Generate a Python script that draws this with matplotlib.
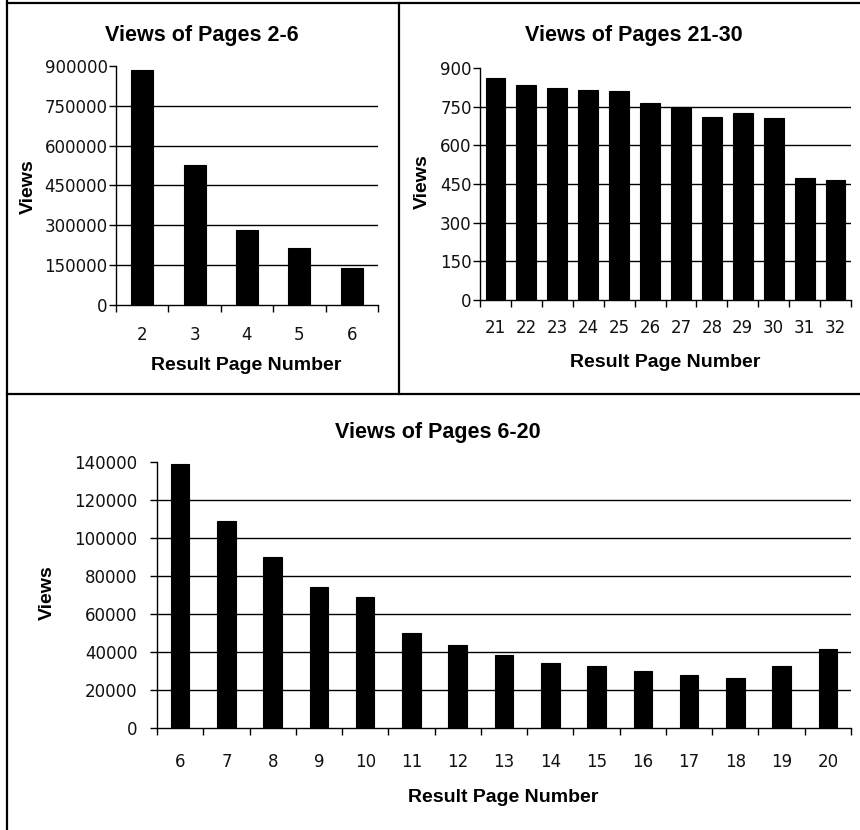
import matplotlib
matplotlib.use("Agg")
import matplotlib.pyplot as plt
from matplotlib.lines import Line2D

# page views per result page
pages_a = [2, 3, 4, 5, 6]
views_a = [884000, 528000, 281000, 215000, 139000]
yticks_a = [0, 150000, 300000, 450000, 600000, 750000, 900000]

pages_b = [21, 22, 23, 24, 25, 26, 27, 28, 29, 30, 31, 32]
views_b = [862, 834, 824, 813, 812, 766, 749, 710, 727, 705, 473, 467]
yticks_b = [0, 150, 300, 450, 600, 750, 900]

pages_c = [6, 7, 8, 9, 10, 11, 12, 13, 14, 15, 16, 17, 18, 19, 20]
views_c = [138800, 108900, 89800, 74400, 69100, 49900, 43800, 38300,
           34000, 32400, 29900, 27700, 26300, 32400, 41500]
yticks_c = [0, 20000, 40000, 60000, 80000, 100000, 120000, 140000]

W, H = 860, 830
fig = plt.figure(figsize=(W / 100, H / 100), dpi=100)
fig.patch.set_facecolor("white")

BOLD = dict(family="Liberation Sans", weight="bold", color="black")
TICKFONT = "DejaVu Sans"
TICKSIZE = 12


def px(x, y):
    return x / W, 1 - y / H


def axes_px(x0, y0, x1, y1):
    return fig.add_axes([x0 / W, 1 - y1 / H, (x1 - x0) / W, (y1 - y0) / H])


def bar_panel(ax, pages, views, yticks, width, xpad, ypad):
    n = len(pages)
    pos = list(range(n))
    ax.hlines(yticks[1:-1], -0.5, n - 0.5, colors="black", lw=1.0, zorder=1)
    ax.bar(pos, views, width=width, color="black", edgecolor="black",
           lw=0.8, zorder=2)
    ax.set_xlim(-0.5, n - 0.5)
    ax.set_ylim(yticks[0], yticks[-1])
    ax.set_yticks(yticks)
    ax.set_yticklabels([str(t) for t in yticks], fontfamily=TICKFONT,
                       fontsize=TICKSIZE, color="#111111")
    ax.set_xticks(pos)
    ax.set_xticklabels([str(p) for p in pages], fontfamily=TICKFONT,
                       fontsize=TICKSIZE, color="#111111")
    ax.set_xticks([i - 0.5 for i in range(n + 1)], minor=True)
    ax.tick_params(axis="x", which="major", length=0, pad=xpad)
    ax.tick_params(axis="x", which="minor", length=5, width=1, direction="out")
    ax.tick_params(axis="y", length=5, width=1, direction="out", pad=ypad)
    for s in ("top", "right"):
        ax.spines[s].set_visible(False)
    for s in ("left", "bottom"):
        ax.spines[s].set_linewidth(1.0)
    ax.set_facecolor("white")


ax1 = axes_px(116, 66, 378, 305)
bar_panel(ax1, pages_a, views_a, yticks_a, 0.42, 15, 1)

ax2 = axes_px(480, 68, 851, 300)
bar_panel(ax2, pages_b, views_b, yticks_b, 0.64, 14, 1)

ax3 = axes_px(157, 462, 851, 728)
bar_panel(ax3, pages_c, views_c, yticks_c, 0.4, 18, 9)

# titles and axis labels
fig.text(*px(202, 36), "Views of Pages 2-6", ha="center", va="center", fontsize=15.5, **BOLD)
fig.text(*px(634, 36), "Views of Pages 21-30", ha="center", va="center", fontsize=15.5, **BOLD)
fig.text(*px(438, 432), "Views of Pages 6-20", ha="center", va="center", fontsize=15.5, **BOLD)

fig.text(*px(246, 365), "Result Page Number", ha="center", va="center", fontsize=14, **BOLD)
fig.text(*px(665, 362), "Result Page Number", ha="center", va="center", fontsize=14, **BOLD)
fig.text(*px(503, 797), "Result Page Number", ha="center", va="center", fontsize=14, **BOLD)

fig.text(*px(28, 187), "Views", ha="center", va="center", rotation=90, fontsize=14, **BOLD)
fig.text(*px(422, 182), "Views", ha="center", va="center", rotation=90, fontsize=14, **BOLD)
fig.text(*px(47, 593), "Views", ha="center", va="center", rotation=90, fontsize=14, **BOLD)

# panel frame lines
frame = [
    ((7, 3.5), (860, 3.5)),
    ((7, 0), (7, 830)),
    ((7, 394), (860, 394)),
    ((399, 3.5), (399, 394)),
]
for (xa, ya), (xb, yb) in frame:
    (fx0, fy0), (fx1, fy1) = px(xa, ya), px(xb, yb)
    fig.add_artist(Line2D([fx0, fx1], [fy0, fy1], transform=fig.transFigure,
                          color="black", lw=1.6))

fig.savefig("out.png", dpi=100, facecolor="white")
